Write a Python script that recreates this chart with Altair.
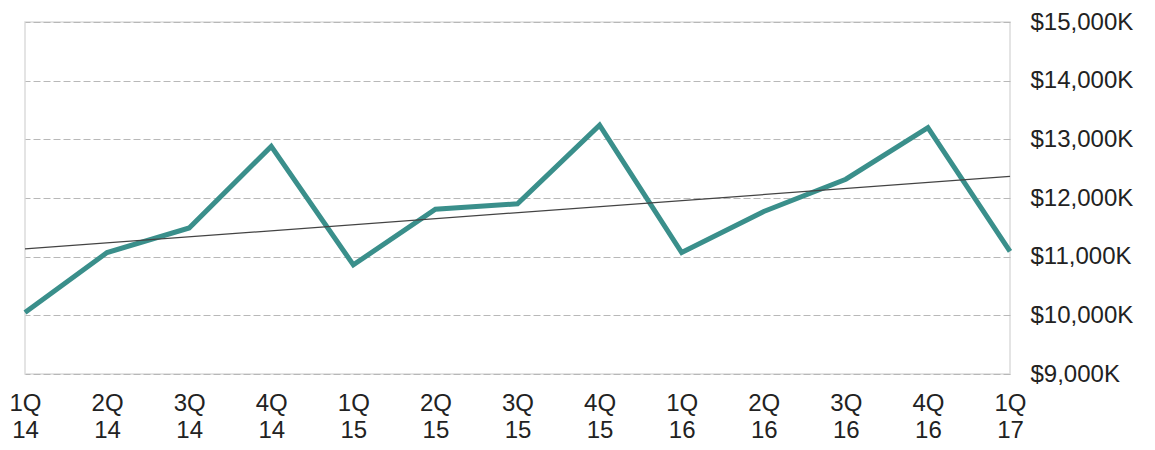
import altair as alt
import pandas as pd

quarters = ["1Q", "2Q", "3Q", "4Q", "1Q", "2Q", "3Q", "4Q", "1Q", "2Q", "3Q", "4Q", "1Q"]
years = ["14", "14", "14", "14", "15", "15", "15", "15", "16", "16", "16", "16", "17"]
revenue_k = [10050, 11070, 11490, 12880, 10860, 11810, 11900, 13240, 11070, 11770, 12320, 13200, 11090]

labels = [f"{q}\\n{y}" for q, y in zip(quarters, years)]
df = pd.DataFrame({"idx": list(range(len(revenue_k))), "rev": revenue_k})

label_expr = "split([" + ",".join(f"'{l}'" for l in labels) + "][datum.value], '\\n')"

x = alt.X("idx:Q", scale=alt.Scale(domain=[0, 12], nice=False, zero=False),
          axis=alt.Axis(values=list(range(13)), labelExpr=label_expr, title=None,
                        grid=False, ticks=False, domain=False, labelFontSize=24,
                        labelLineHeight=27, labelPadding=17, labelColor="#222",
                        labelFont="Liberation Sans", labelBaseline="top",
                        labelFlush=False, labelOverlap=False))
y = alt.Y("rev:Q", scale=alt.Scale(domain=[9000, 15000], nice=False, zero=False),
          axis=alt.Axis(orient="right", values=[9000, 10000, 11000, 12000, 13000, 14000, 15000],
                        labelExpr="'$' + format(datum.value, ',') + 'K'", title=None,
                        ticks=False, domain=False, labelFontSize=24, labelPadding=20,
                        labelColor="#222", labelFont="Liberation Sans", labelFlush=False,
                        gridColor="#b8b8b8", gridDash=[7, 3], gridWidth=1))

base = alt.Chart(df)
line = base.mark_line(color="#3a8f8b", strokeWidth=5, strokeJoin="miter").encode(x=x, y=y)
trend = base.transform_regression("idx", "rev").mark_line(color="#444", strokeWidth=1.3).encode(x=x, y=y)

chart = alt.layer(line, trend).properties(
    width=985, height=352,
    autosize=alt.AutoSizeParams(type="none"),
    padding={"left": 17, "top": 14, "right": 136, "bottom": 68},
).configure_view(stroke="#dcdcdc", strokeWidth=1.5)

chart.save("out.html", embed_options={"renderer": "svg", "actions": False})
